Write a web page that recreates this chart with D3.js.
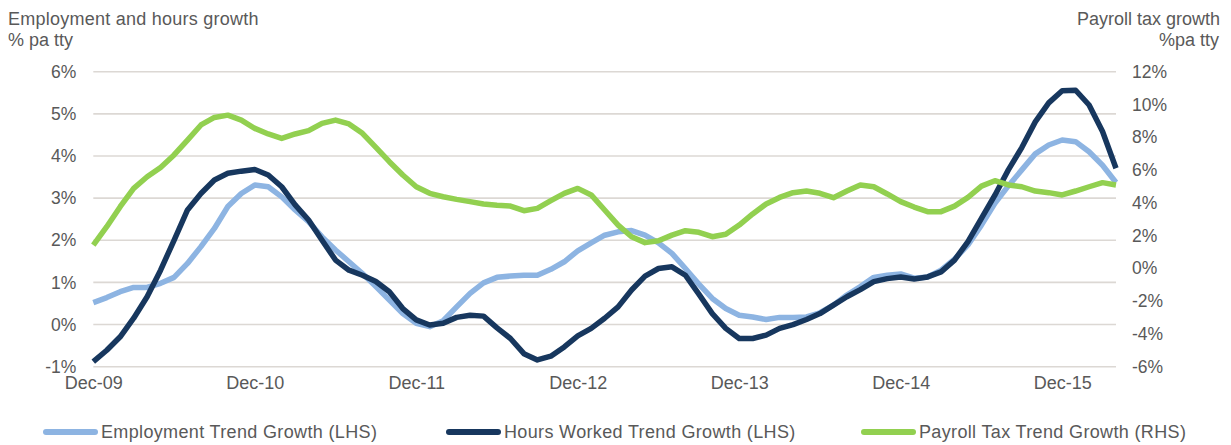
<!DOCTYPE html>
<html>
<head>
<meta charset="utf-8">
<script src="https://cdn.jsdelivr.net/npm/d3@7"></script>
<style>
  body { margin: 0; background: #fff; }
  svg { display: block; font-family: "Liberation Sans", Arial, sans-serif; }
  .tick text { fill: #595959; }
</style>
</head>
<body>
<div id="chartArea"></div>
<script>
// monthly points, Dec-09 .. Apr-16
var startMonth = new Date(2009, 11, 1);
var xTickLabels = ["Dec-09", "Dec-10", "Dec-11", "Dec-12", "Dec-13", "Dec-14", "Dec-15"];
var leftTicks = [-1, 0, 1, 2, 3, 4, 5, 6];
var rightTicks = [-6, -4, -2, 0, 2, 4, 6, 8, 10, 12];

var employment = [
  0.52, 0.64, 0.78, 0.88, 0.88, 0.98, 1.12, 1.45, 1.85, 2.28, 2.80, 3.11, 3.31, 3.27, 3.03, 2.72,
  2.44, 2.08, 1.77, 1.49, 1.21, 0.90, 0.58, 0.26, 0.03, -0.05, 0.09, 0.42, 0.74, 0.99, 1.12,
  1.15, 1.17, 1.17, 1.31, 1.49, 1.75, 1.94, 2.12, 2.20, 2.23, 2.12, 1.94, 1.69, 1.33, 0.96,
  0.62, 0.38, 0.22, 0.18, 0.12, 0.17, 0.17, 0.18, 0.28, 0.46, 0.70, 0.90, 1.12, 1.17, 1.20, 1.10,
  1.13, 1.29, 1.55, 1.89, 2.36, 2.88, 3.29, 3.67, 4.05, 4.26, 4.38, 4.34, 4.10, 3.78, 3.37
];
var hours = [
  -0.88, -0.61, -0.29, 0.15, 0.66, 1.29, 2.00, 2.72, 3.11, 3.43, 3.59, 3.64, 3.68, 3.55, 3.27, 2.84,
  2.48, 2.00, 1.53, 1.29, 1.17, 1.02, 0.78, 0.38, 0.11, -0.01, 0.03, 0.17, 0.22, 0.20, -0.08,
  -0.33, -0.69, -0.84, -0.75, -0.53, -0.27, -0.09, 0.15, 0.42, 0.82, 1.15, 1.33, 1.37, 1.17, 0.72,
  0.26, -0.09, -0.33, -0.33, -0.25, -0.09, 0.00, 0.12, 0.26, 0.46, 0.66, 0.83, 1.02, 1.09, 1.13, 1.08,
  1.13, 1.25, 1.53, 1.97, 2.52, 3.07, 3.67, 4.20, 4.81, 5.26, 5.55, 5.56, 5.21, 4.58, 3.71
];
var payroll = [
  1.42, 2.54, 3.76, 4.88, 5.59, 6.16, 6.92, 7.83, 8.75, 9.21, 9.35, 9.05, 8.54, 8.20, 7.93, 8.20,
  8.40, 8.85, 9.05, 8.81, 8.24, 7.38, 6.51, 5.70, 4.98, 4.58, 4.37, 4.21, 4.07, 3.93, 3.85,
  3.80, 3.52, 3.66, 4.13, 4.58, 4.88, 4.48, 3.56, 2.64, 1.93, 1.57, 1.69, 2.03, 2.30, 2.20,
  1.93, 2.08, 2.64, 3.32, 3.93, 4.33, 4.62, 4.72, 4.58, 4.31, 4.72, 5.09, 4.98, 4.54, 4.07, 3.74,
  3.46, 3.46, 3.80, 4.33, 5.02, 5.35, 5.09, 4.98, 4.72, 4.62, 4.48, 4.72, 4.98, 5.23, 5.09
];

var seriesNames = ["Employment Trend Growth (LHS)", "Hours Worked Trend Growth (LHS)", "Payroll Tax Trend Growth (RHS)"];
var colors = ["#8DB4E2", "#17375E", "#92D050"];

var W = 1231, H = 445;
var months = employment.map(function (d, i) { return d3.timeMonth.offset(startMonth, i); });

var svg = d3.select("#chartArea").append("svg")
  .attr("width", W)
  .attr("height", H);

var x = d3.scaleLinear().domain([0, months.length - 1]).range([93.3, 1116]);
var yL = d3.scaleLinear().domain([-1, 6]).range([366.7, 71.7]);
var yR = d3.scaleLinear().domain([-6, 12]).range([366.7, 71.7]);

// gridlines
svg.append("g").selectAll("line")
  .data(leftTicks)
  .enter().append("line")
  .attr("x1", x.range()[0])
  .attr("x2", x.range()[1])
  .attr("y1", d => yL(d))
  .attr("y2", d => yL(d))
  .attr("stroke", "#dcd8d4")
  .attr("stroke-width", 1.6);

// axes
var leftAxis = svg.append("g")
  .attr("transform", "translate(" + x.range()[0] + ",0)")
  .call(d3.axisLeft(yL).tickValues(leftTicks).tickFormat(d => d + "%").tickSize(0).tickPadding(17));
var rightAxis = svg.append("g")
  .attr("transform", "translate(" + x.range()[1] + ",0)")
  .call(d3.axisRight(yR).tickValues(rightTicks).tickFormat(d => d + "%").tickSize(0).tickPadding(16));

var xTickIdx = xTickLabels.map(function (lab, i) { return i * 12; });
var bottomAxis = svg.append("g")
  .attr("transform", "translate(0," + yL(-1) + ")")
  .call(d3.axisBottom(x).tickValues(xTickIdx).tickFormat((d, i) => xTickLabels[i]).tickSize(0).tickPadding(10));

[leftAxis, rightAxis, bottomAxis].forEach(function (g) {
  g.select(".domain").remove();
  g.selectAll("text").attr("font-size", 17.5).attr("font-family", "Liberation Sans, Arial, sans-serif");
});
bottomAxis.selectAll("text").attr("font-size", 18);

// lines
var lineL = d3.line().x((d, i) => x(i)).y(d => yL(d));
var lineR = d3.line().x((d, i) => x(i)).y(d => yR(d));

var lines = [
  { data: employment, gen: lineL },
  { data: hours, gen: lineL },
  { data: payroll, gen: lineR }
];
lines.forEach(function (s, k) {
  svg.append("path")
    .datum(s.data)
    .attr("d", s.gen)
    .attr("fill", "none")
    .attr("stroke", colors[k])
    .attr("stroke-width", 5.5)
    .attr("stroke-linejoin", "round");
});

// titles
var txt = "#595959";
svg.append("text").attr("x", 8).attr("y", 25).attr("font-size", 18).attr("fill", txt)
  .attr("letter-spacing", 0.25).text("Employment and hours growth");
svg.append("text").attr("x", 8).attr("y", 46).attr("font-size", 18).attr("fill", txt)
  .text("% pa tty");
svg.append("text").attr("x", 1220).attr("y", 25).attr("font-size", 18).attr("fill", txt)
  .attr("text-anchor", "end").text("Payroll tax growth");
svg.append("text").attr("x", 1219).attr("y", 46).attr("font-size", 18).attr("fill", txt)
  .attr("text-anchor", "end").text("%pa tty");

// legend
var legendX = [43, 446, 861];
var legend = svg.append("g").selectAll("g")
  .data(seriesNames)
  .enter().append("g")
  .attr("transform", (d, i) => "translate(" + legendX[i] + ",432)");
legend.append("line")
  .attr("x1", 3).attr("x2", 52)
  .attr("stroke", (d, i) => colors[i])
  .attr("stroke-width", 6)
  .attr("stroke-linecap", "round");
legend.append("text")
  .attr("x", 58)
  .attr("dy", "0.36em")
  .attr("font-size", 18)
  .attr("letter-spacing", 0.35)
  .attr("fill", txt)
  .text(d => d);
</script>
</body>
</html>
